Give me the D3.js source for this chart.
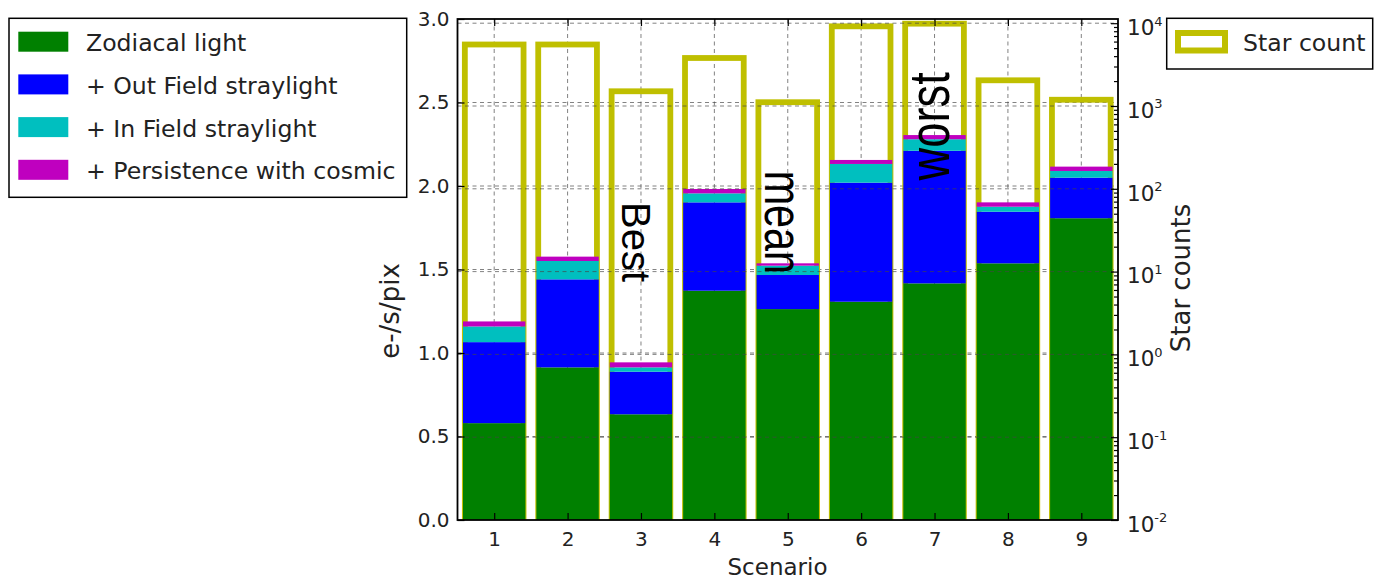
<!DOCTYPE html>
<html>
<head>
<meta charset="utf-8">
<script src="https://cdn.jsdelivr.net/npm/d3@7"></script>
<style>
  html, body { margin: 0; padding: 0; background: #fff; }
  svg { display: block; }
</style>
</head>
<body>
<svg id="chart" width="1374" height="580"></svg>
<script>
// ---- data -------------------------------------------------------------
const scenarios   = [1, 2, 3, 4, 5, 6, 7, 8, 9];
// background contributions (e-/s/pix), stacked bottom to top
const zodiacal    = [0.580, 0.914, 0.633, 1.373, 1.263, 1.307, 1.417, 1.537, 1.807];
const outField    = [0.485, 0.527, 0.255, 0.529, 0.204, 0.713, 0.794, 0.309, 0.243];
const inField     = [0.094, 0.110, 0.026, 0.054, 0.056, 0.112, 0.069, 0.030, 0.040];
const persistence = [0.030, 0.026, 0.030, 0.026, 0.014, 0.024, 0.025, 0.026, 0.026];
// number of stars per scenario (right, log axis)
const starCounts  = [5530, 5530, 1506, 3800, 1111, 9170, 9870, 2044, 1190];

const seriesNames = ["Zodiacal light", "+ Out Field straylight",
                     "+ In Field straylight", "+ Persistence with cosmic"];
const leftTicks   = [0.0, 0.5, 1.0, 1.5, 2.0, 2.5, 3.0];
const rightExps   = [-2, -1, 0, 1, 2, 3, 4];
const annotLabels = ["Best", "mean", "worst"];
const annotScen   = [2.737, 4.690, 7.201];
const annotValue  = [1.904, 2.092, 2.033];

// ---- layout -----------------------------------------------------------
const svg = d3.select("#chart");
const P = { left: 457.5, right: 1118, top: 19, bottom: 520 };
const FONT = "DejaVu Sans, Bitstream Vera Sans, sans-serif";
const colors = ["#008000", "#0000ff", "#00bfbf", "#bf00bf"];
const starColor = "#bfbf00";

const x  = d3.scaleLinear().domain([0.5, 9.5]).range([P.left, P.right]);
const yL = d3.scaleLinear().domain([0, 3]).range([P.bottom, P.top]);
const yR = d3.scaleLog().domain([1e-2, 1e4]).range([P.bottom, 23.2]);
const unit = x(2) - x(1);

svg.append("rect").attr("width", 1374).attr("height", 580).attr("fill", "#fff");

svg.append("defs").append("clipPath").attr("id", "plotclip")
  .append("rect").attr("x", P.left).attr("y", P.top)
  .attr("width", P.right - P.left).attr("height", P.bottom - P.top);

const plot = svg.append("g").attr("clip-path", "url(#plotclip)");

const gridStyle = sel => sel.attr("stroke", "#444").attr("stroke-width", 0.9)
  .attr("stroke-dasharray", "4,3.5").attr("stroke-opacity", 0.75);

// grid of the left axis and the scenario axis (below the bars)
plot.append("g").selectAll("line").data(leftTicks.slice(1, -1)).join("line")
  .attr("x1", P.left).attr("x2", P.right)
  .attr("y1", d => yL(d)).attr("y2", d => yL(d)).call(gridStyle);
plot.append("g").selectAll("line").data(scenarios).join("line")
  .attr("x1", d => x(d)).attr("x2", d => x(d))
  .attr("y1", P.top).attr("y2", P.bottom).call(gridStyle);

// star count outlines
plot.append("g").selectAll("rect").data(scenarios).join("rect")
  .attr("x", d => x(d) - 0.4 * unit).attr("width", 0.8 * unit)
  .attr("y", (d, i) => yR(starCounts[i]))
  .attr("height", (d, i) => yR(1e-2) - yR(starCounts[i]))
  .attr("fill", "none").attr("stroke", starColor).attr("stroke-width", 5.8);

// stacked background bars
const rows = scenarios.map((s, i) => ({ s, a: zodiacal[i], b: outField[i], c: inField[i], d: persistence[i] }));
const stacked = d3.stack().keys(["a", "b", "c", "d"])(rows);
plot.append("g").selectAll("g").data(stacked).join("g")
  .attr("fill", (d, i) => colors[i])
  .selectAll("rect").data(d => d).join("rect")
  .attr("x", d => x(d.data.s) - 0.425 * unit).attr("width", 0.85 * unit)
  .attr("y", d => yL(d[1])).attr("height", d => yL(d[0]) - yL(d[1]));

// grid of the right (log) axis, drawn over the bars
plot.append("g").selectAll("line").data(rightExps.slice(1)).join("line")
  .attr("x1", P.left).attr("x2", P.right)
  .attr("y1", d => yR(Math.pow(10, d))).attr("y2", d => yR(Math.pow(10, d))).call(gridStyle);

// scenario annotations
const annotStyle = [
  { rot: 90,  size: 40,   stretch: 1.0 },
  { rot: 90,  size: 41.3, stretch: 1.245 },
  { rot: -90, size: 45.3, stretch: 1.25 }
];
svg.append("g").selectAll("text").data(annotLabels).join("text")
  .attr("transform", (d, i) => `translate(${x(annotScen[i])},${yL(annotValue[i])}) rotate(${annotStyle[i].rot}) scale(1,${annotStyle[i].stretch})`)
  .attr("font-family", "Liberation Sans, Arial, sans-serif")
  .attr("font-size", (d, i) => annotStyle[i].size)
  .attr("fill", "#000").text(d => d);

// ---- axes ---------------------------------------------------------------
const styleAxis = (g, size) => {
  g.select(".domain").remove();
  g.selectAll(".tick line").attr("stroke", "#000").attr("stroke-width", 1.2);
  g.selectAll("text").attr("font-family", FONT).attr("font-size", size).attr("fill", "#222");
};

svg.append("g").attr("transform", `translate(${P.left},0)`)
  .call(d3.axisLeft(yL).tickValues(leftTicks).tickSize(-7).tickPadding(8).tickFormat(d3.format(".1f")))
  .call(g => styleAxis(g, 20));

svg.append("g").attr("transform", `translate(0,${P.bottom})`)
  .call(d3.axisBottom(x).tickValues(scenarios).tickSize(-7).tickPadding(12).tickFormat(d3.format("d")))
  .call(g => styleAxis(g, 20));

svg.append("g").attr("transform", `translate(0,${P.top})`)
  .call(d3.axisTop(x).tickValues(scenarios).tickSize(-7).tickFormat(""))
  .call(g => styleAxis(g, 20));

// right log axis: major and minor ticks
const minorTicks = [];
rightExps.forEach(e => { for (let m = 2; m <= 9; m++) { const v = m * Math.pow(10, e); if (v < 1.12e4) minorTicks.push(v); } });
svg.append("g").attr("transform", `translate(${P.right},0)`)
  .call(d3.axisRight(yR).tickValues(minorTicks).tickSize(-4).tickFormat(""))
  .call(g => styleAxis(g, 20));
const rAxis = svg.append("g").attr("transform", `translate(${P.right},0)`)
  .call(d3.axisRight(yR).tickValues(rightExps.map(e => Math.pow(10, e))).tickSize(-7).tickFormat(""))
  .call(g => styleAxis(g, 20));
rAxis.selectAll(".tick text").remove();
const rLab = rAxis.selectAll(".tick").append("text")
  .attr("x", 9).attr("y", 11.3)
  .attr("font-family", FONT).attr("fill", "#222").attr("text-anchor", "start");
rLab.append("tspan").attr("font-size", 21.5).text("10");
rLab.append("tspan").attr("font-size", 13).attr("dy", -9.5)
  .text((d, i) => String(rightExps[i]));

// spines
svg.append("rect").attr("x", P.left).attr("y", P.top)
  .attr("width", P.right - P.left).attr("height", P.bottom - P.top)
  .attr("fill", "none").attr("stroke", "#000").attr("stroke-width", 1.8);

// axis titles
svg.append("text").attr("x", 777.5).attr("y", 575).attr("text-anchor", "middle")
  .attr("font-family", FONT).attr("font-size", 23).attr("fill", "#222").text("Scenario");
svg.append("text").attr("transform", "translate(398.5,311) rotate(-90)").attr("text-anchor", "middle")
  .attr("font-family", FONT).attr("font-size", 26).attr("fill", "#222").text("e-/s/pix");
svg.append("text").attr("transform", "translate(1190,278) rotate(-90)").attr("text-anchor", "middle")
  .attr("font-family", FONT).attr("font-size", 26).attr("fill", "#222").text("Star counts");

// ---- legends ------------------------------------------------------------
const legL = svg.append("g");
legL.append("rect").attr("x", 9).attr("y", 18.3).attr("width", 397.7).attr("height", 179)
  .attr("fill", "#fff").attr("stroke", "#000").attr("stroke-width", 1.5);
const rowY = i => 41.7 + i * 42.7;
legL.selectAll("rect.key").data(seriesNames).join("rect").attr("class", "key")
  .attr("x", 18.3).attr("y", (d, i) => rowY(i) - 10).attr("width", 50).attr("height", 20)
  .attr("fill", (d, i) => colors[i]);
legL.selectAll("text").data(seriesNames).join("text")
  .attr("x", 86).attr("y", (d, i) => rowY(i) + 9.5)
  .attr("font-family", FONT).attr("font-size", 23.6).attr("fill", "#222").text(d => d);

const legR = svg.append("g");
legR.append("rect").attr("x", 1166.7).attr("y", 18.3).attr("width", 206).attr("height", 50.7)
  .attr("fill", "#fff").attr("stroke", "#000").attr("stroke-width", 1.5);
legR.append("rect").attr("x", 1178).attr("y", 33).attr("width", 47).attr("height", 17.5)
  .attr("fill", "none").attr("stroke", starColor).attr("stroke-width", 6);
legR.append("text").attr("x", 1243).attr("y", 51)
  .attr("font-family", FONT).attr("font-size", 23.6).attr("fill", "#222").text("Star count");
</script>
</body>
</html>
